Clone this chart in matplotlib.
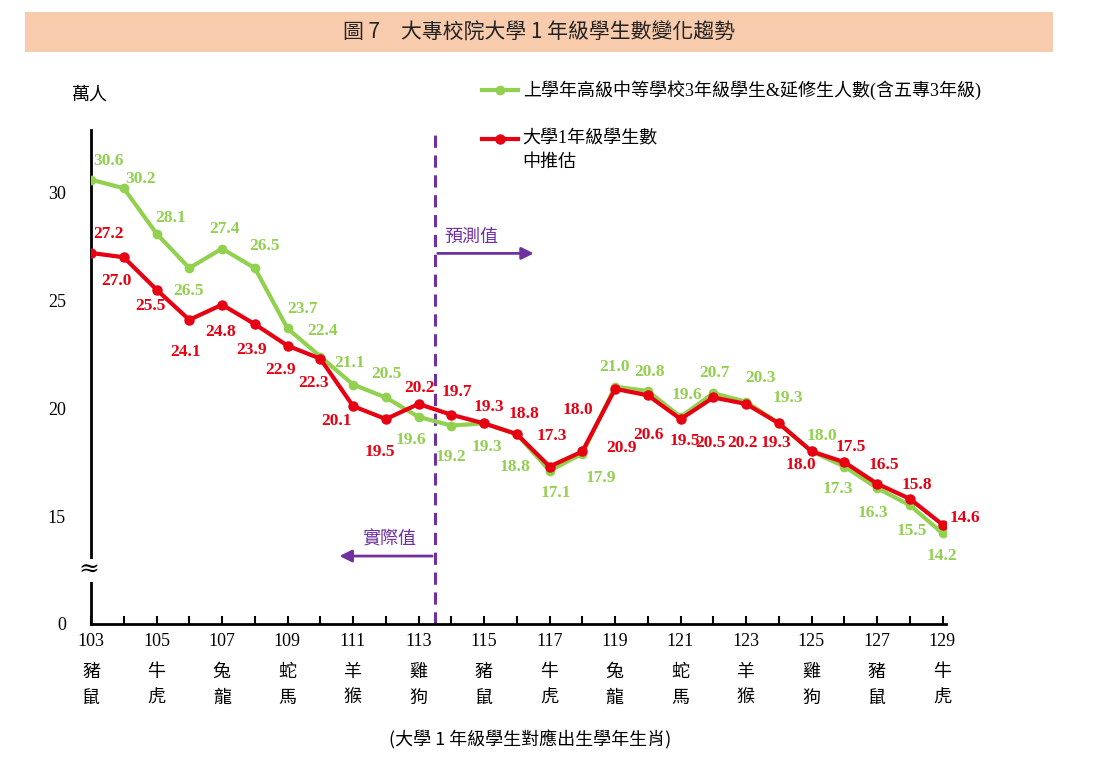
import matplotlib
matplotlib.use("Agg")
import matplotlib.pyplot as plt
from matplotlib.lines import Line2D
from matplotlib.patches import Rectangle

years = list(range(103, 130))
green = [30.6, 30.2, 28.1, 26.5, 27.4, 26.5, 23.7, 22.4, 21.1, 20.5, 19.6, 19.2, 19.3, 18.8,
         17.1, 17.9, 21.0, 20.8, 19.6, 20.7, 20.3, 19.3, 18.0, 17.3, 16.3, 15.5, 14.2]
red = [27.2, 27.0, 25.5, 24.1, 24.8, 23.9, 22.9, 22.3, 20.1, 19.5, 20.2, 19.7, 19.3, 18.8,
       17.3, 18.0, 20.9, 20.6, 19.5, 20.5, 20.2, 19.3, 18.0, 17.5, 16.5, 15.8, 14.6]
tick_years = list(range(103, 130, 2))
zodiac1 = ['豬', '牛', '兔', '蛇', '羊', '雞', '豬', '牛', '兔', '蛇', '羊', '雞', '豬', '牛']
zodiac2 = ['鼠', '虎', '龍', '馬', '猴', '狗', '鼠', '虎', '龍', '馬', '猴', '狗', '鼠', '虎']
ytick_pos = [10, 15, 20, 25, 30]
ytick_lab = ['0', '15', '20', '25', '30']

g_off = [(17,19),(17,9),(14,16),(-1,-23),(2,20),(10,22),(15,19),(2,26),(-4,22),(1,23),(-8,-23),
         (0,-31),(3,-24),(-2,-33),(6,-22),(18,-24),(-1,20),(2,19),(6,22),(1,20),(14,24),(9,25),
         (10,15),(-7,-22),(-4,-25),(2,-26),(-1,-23)]
r_off = [(17,19),(-7,-24),(-6,-16),(-4,-32),(-1,-27),(-3,-26),(-7,-24),(-7,-24),(-17,-15),(-6,-33),
         (1,16),(5,23),(5,16),(7,20),(2,31),(-4,41),(6,-59),(1,-40),(4,-22),(-3,-46),(-4,-39),
         (-3,-20),(-11,-14),(6,15),(7,19),(7,14),(22,7)]

CJK = ['Noto Sans CJK TC', 'DejaVu Sans']
SERIF = ['Liberation Serif', 'Noto Sans CJK TC']
GREEN = '#92d050'
RED = '#e60012'
PURPLE = '#7030a0'

W, H = 1104, 764
fig = plt.figure(figsize=(W/100, H/100), dpi=100)
fig.patch.set_facecolor('white')

fig.add_artist(Rectangle((25/W, 1-52/H), (1053-25)/W, 40/H, transform=fig.transFigure,
                         facecolor='#f8cbad', edgecolor='none'))
fig.text(539/W, 1-33/H, '圖 7　大專校院大學 1 年級學生數變化趨勢', family=CJK, fontsize=15,
         ha='center', va='center', color='#222222')

ax = fig.add_axes([91/W, 1-624/H, (946-91)/W, (624-130)/H])
ax.set_xlim(103, 129.1)
ax.set_ylim(10, 32.9)
for s in ['top', 'right']:
    ax.spines[s].set_visible(False)
for s in ['left', 'bottom']:
    ax.spines[s].set_linewidth(2)
ax.set_yticks(ytick_pos)
ax.set_yticklabels(ytick_lab, family=SERIF, fontsize=13)
ax.tick_params(axis='y', length=0, pad=18)
ax.set_xticks(years)
ax.set_xticklabels(['' for _ in years])
ax.tick_params(axis='x', direction='in', length=6, width=1.5)

ax.plot(years, green, color=GREEN, lw=3, marker='o', ms=6, zorder=3)
ax.plot(years, red, color=RED, lw=3, marker='o', ms=6.5, zorder=4)

for x, v, (dx, dy) in zip(years, green, g_off):
    ax.annotate(f'{v:.1f}', (x, v), xytext=(dx, dy), textcoords='offset pixels', ha='center',
                va='center', color=GREEN, fontsize=12.5, fontweight='bold', family=SERIF, zorder=5)
for x, v, (dx, dy) in zip(years, red, r_off):
    ax.annotate(f'{v:.1f}', (x, v), xytext=(dx, dy), textcoords='offset pixels', ha='center',
                va='center', color=RED, fontsize=12.5, fontweight='bold', family=SERIF, zorder=5)

ax.axvline(113.5, color=PURPLE, lw=2.2, ls=(0, (4, 2.5)), ymax=(32.0-10)/22.9 + 0.03, zorder=2)
ax.annotate('', xy=(116.6, 27.18), xytext=(113.5, 27.18),
            arrowprops=dict(arrowstyle='-|>', color=PURPLE, lw=2, mutation_scale=18))
ax.text(114.6, 27.95, '預測值', color=PURPLE, family=CJK, fontsize=13, ha='center', va='center')
ax.annotate('', xy=(110.5, 13.15), xytext=(113.5, 13.15),
            arrowprops=dict(arrowstyle='-|>', color=PURPLE, lw=2, mutation_scale=18))
ax.text(112.1, 13.9, '實際值', color=PURPLE, family=CJK, fontsize=13, ha='center', va='center')

for i, yr in enumerate(tick_years):
    xp = (91 + (yr-103)*32.73)/W
    fig.text(xp, 1-641/H, str(yr), family=SERIF, fontsize=13, ha='center', va='center')
    fig.text(xp, 1-672/H, zodiac1[i], family=CJK, fontsize=13, ha='center', va='center')
    fig.text(xp, 1-698/H, zodiac2[i], family=CJK, fontsize=13, ha='center', va='center')
fig.text(530/W, 1-740/H, '(大學 1 年級學生對應出生學年生肖)', family=CJK, fontsize=13,
         ha='center', va='center')
fig.text(90/W, 1-95/H, '萬人', family=CJK, fontsize=13, ha='center', va='center')
fig.text(89/W, 1-570/H, '≈', fontsize=18, ha='center', va='center', family=['DejaVu Serif'],
         bbox=dict(facecolor='white', edgecolor='none', pad=0))

fig.add_artist(Line2D([482/W, 518/W], [1-90/H]*2, color=GREEN, lw=3, transform=fig.transFigure))
fig.add_artist(Line2D([500/W], [1-90/H], color=GREEN, marker='o', ms=6, transform=fig.transFigure))
fig.text(523/W, 1-90/H, '上學年高級中等學校3年級學生&延修生人數(含五專3年級)', family=SERIF,
         fontsize=13, ha='left', va='center')
fig.add_artist(Line2D([482/W, 518/W], [1-139/H]*2, color=RED, lw=3, transform=fig.transFigure))
fig.add_artist(Line2D([500/W], [1-139/H], color=RED, marker='o', ms=6.5, transform=fig.transFigure))
fig.text(522/W, 1-139/H, '大學1年級學生數', family=SERIF, fontsize=13, ha='left', va='center')
fig.text(522/W, 1-162/H, '中推估', family=SERIF, fontsize=13, ha='left', va='center')

fig.savefig('out.png', dpi=100)
